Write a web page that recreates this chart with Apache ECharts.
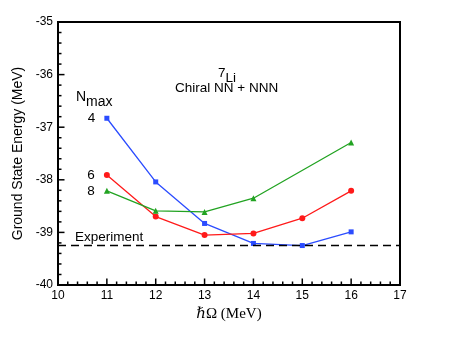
<!DOCTYPE html>
<html>
<head>
<meta charset="utf-8">
<script src="https://cdn.jsdelivr.net/npm/echarts@6/dist/echarts.min.js"></script>
<style>html,body{margin:0;padding:0;background:#fff}#c{width:457px;height:353px}</style>
</head>
<body>
<div id="c"></div>
<script>
var hbarOmega = [11, 12, 13, 14, 15, 16];
var nmax4 = [-36.83, -38.04, -38.83, -39.21, -39.25, -38.99];
var nmax6 = [-37.91, -38.70, -39.05, -39.02, -38.73, -38.21];
var nmax8x = [11, 12, 13, 14, 16];
var nmax8 = [-38.21, -38.59, -38.61, -38.35, -37.29];
var experiment = -39.25;
var seriesNames = ['4', '6', '8'];
var xRange = [10, 17];
var yRange = [-40, -35];
var minorPerMajor = 5;

function pairs(xs, ys) { return xs.map(function (x, i) { return [x, ys[i]]; }); }

var chart = echarts.init(document.getElementById('c'), null, {renderer: 'canvas'});
var font = 'Liberation Sans, Arial, sans-serif';
function mkSeries(name, xs, ys, color, symbol, size) {
  return {
    name: name, type: 'line', data: pairs(xs, ys),
    symbol: symbol, symbolSize: size,
    lineStyle: {color: color, width: 1.3},
    itemStyle: {color: color},
    label: {show: true, position: 'left', distance: 9, fontSize: 13.5, color: '#000', fontFamily: font,
      formatter: function (p) { return p.dataIndex === 0 ? name : ''; }},
    emphasis: {disabled: true}, animation: false, z: 3
  };
}
var textGraphics = [
  {type: 'text', left: 218, top: 63, style: {text: '{s|7}{b|Li}', rich: {
    s: {fontSize: 13.5, fontFamily: font, fill: '#000', verticalAlign: 'top', lineHeight: 16},
    b: {fontSize: 13.5, fontFamily: font, fill: '#000', padding: [8, 0, 0, 0], lineHeight: 16}
  }}},
  {type: 'text', left: 175, top: 81, style: {text: 'Chiral NN + NNN', fontSize: 13.5, fontFamily: font, fill: '#000'}},
  {type: 'text', left: 76, top: 86, style: {text: '{n|N}{m|max}', rich: {
    n: {fontSize: 14, fontFamily: font, fill: '#000', lineHeight: 16},
    m: {fontSize: 14, fontFamily: font, fill: '#000', padding: [9, 0, 0, 0], lineHeight: 16}
  }}}
];
var option = {
  animation: false,
  grid: {left: 58, right: 57, top: 22, bottom: 68, show: true, borderColor: '#000', borderWidth: 2},
  xAxis: {
    type: 'value', min: xRange[0], max: xRange[1], interval: 1,
    name: 'ℏΩ (MeV)', nameLocation: 'middle', nameGap: 19,
    nameTextStyle: {fontFamily: 'Liberation Serif, DejaVu Serif, serif', fontSize: 15, color: '#000'},
    axisLine: {show: true, onZero: false, lineStyle: {color: '#000', width: 2}},
    axisTick: {show: false},
    axisLabel: {color: '#000', fontSize: 12, fontFamily: font, margin: 5},
    splitLine: {show: false}
  },
  yAxis: {
    type: 'value', min: yRange[0], max: yRange[1], interval: 1,
    name: 'Ground State Energy (MeV)', nameLocation: 'middle', nameGap: 27,
    nameTextStyle: {fontFamily: font, fontSize: 14, color: '#000'},
    axisLine: {show: true, onZero: false, lineStyle: {color: '#000', width: 2}},
    axisTick: {show: false},
    axisLabel: {color: '#000', fontSize: 12, fontFamily: font, margin: 5},
    splitLine: {show: false}
  },
  series: [
    mkSeries(seriesNames[0], hbarOmega, nmax4, '#2b4cff', 'rect', 5),
    mkSeries(seriesNames[1], hbarOmega, nmax6, '#ff1a1a', 'circle', 6),
    mkSeries(seriesNames[2], nmax8x, nmax8, '#22a322', 'triangle', 6),
    {
      type: 'line', data: [], silent: true,
      markLine: {
        silent: true, symbol: ['none', 'none'], animation: false,
        lineStyle: {color: '#000', type: [8, 5], width: 1.3},
        label: {show: true, position: 'insideStartTop', formatter: 'Experiment', color: '#000',
          fontSize: 13.5, fontFamily: font, distance: [17, 1]},
        data: [{yAxis: experiment}]
      }
    }
  ],
  graphic: textGraphics
};
chart.setOption(option);

// inward ticks, positioned through the chart's own axis scales
var ticks = [];
function addTick(p, dx, dy) {
  ticks.push({type: 'line', silent: true, z: 100,
    shape: {x1: p[0], y1: p[1], x2: p[0] + dx, y2: p[1] + dy},
    style: {stroke: '#000', lineWidth: 1.5}});
}
for (var i = 0; i <= (xRange[1] - xRange[0]) * minorPerMajor; i++) {
  var xv = xRange[0] + i / minorPerMajor;
  var px = chart.convertToPixel({gridIndex: 0}, [xv, yRange[0]]);
  addTick(px, 0, -(i % minorPerMajor === 0 ? 6.5 : 3.5));
}
for (var j = 0; j <= (yRange[1] - yRange[0]) * minorPerMajor; j++) {
  var yv = yRange[0] + j / minorPerMajor;
  var py = chart.convertToPixel({gridIndex: 0}, [xRange[0], yv]);
  addTick(py, (j % minorPerMajor === 0 ? 6.5 : 3.5), 0);
}
chart.setOption({graphic: textGraphics.concat(ticks)});
</script>
</body>
</html>
